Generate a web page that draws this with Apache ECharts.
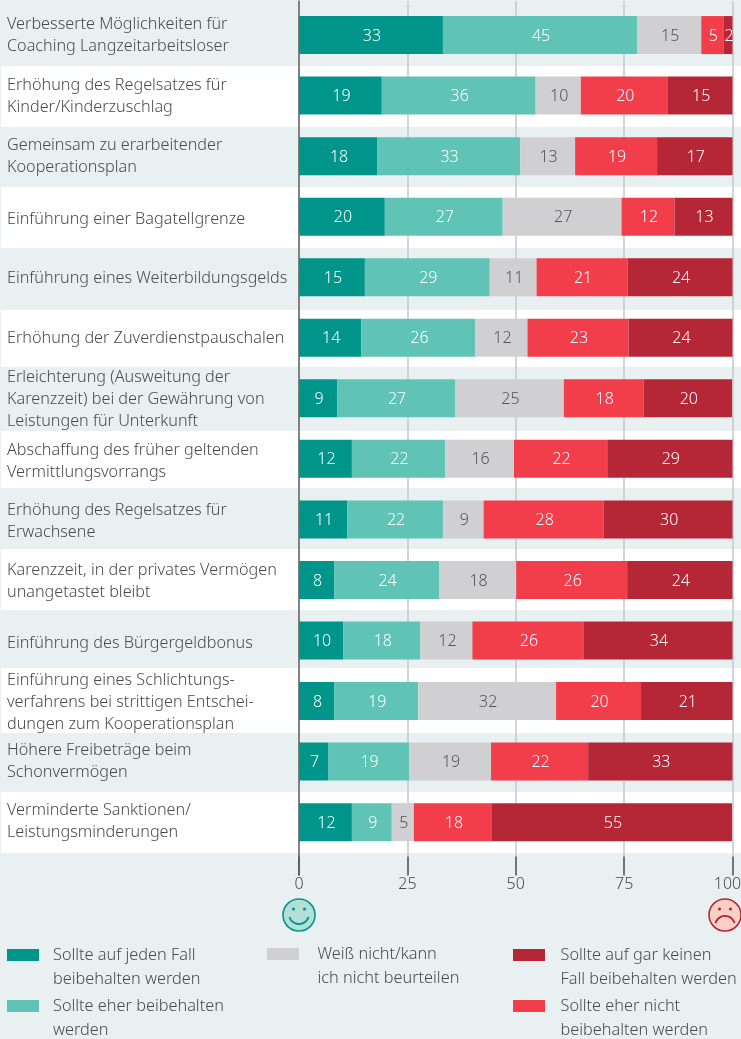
<!DOCTYPE html>
<html>
<head>
<meta charset="utf-8">
<script src="https://cdn.jsdelivr.net/npm/echarts@6/dist/echarts.min.js"></script>
<style>
  html, body { margin: 0; padding: 0; background: #e8f0f2; }
  #chart { width: 741px; height: 1039px; }
</style>
</head>
<body>
<div id="chart"></div>
<script>
var categories = [
  'Verbesserte Möglichkeiten für\nCoaching Langzeitarbeitsloser',
  'Erhöhung des Regelsatzes für\nKinder/Kinderzuschlag',
  'Gemeinsam zu erarbeitender\nKooperationsplan',
  'Einführung einer Bagatellgrenze',
  'Einführung eines Weiterbildungsgelds',
  'Erhöhung der Zuverdienstpauschalen',
  'Erleichterung (Ausweitung der\nKarenzzeit) bei der Gewährung von\nLeistungen für Unterkunft',
  'Abschaffung des früher geltenden\nVermittlungsvorrangs',
  'Erhöhung des Regelsatzes für\nErwachsene',
  'Karenzzeit, in der privates Vermögen\nunangetastet bleibt',
  'Einführung des Bürgergeldbonus',
  'Einführung eines Schlichtungs-\nverfahrens bei strittigen Entschei-\ndungen zum Kooperationsplan',
  'Höhere Freibeträge beim\nSchonvermögen',
  'Verminderte Sanktionen/\nLeistungsminderungen'
];

// bar lengths, labels are these rounded
var jedenFall = [33.2, 19.1, 18, 19.8, 15.2, 14.4, 8.8, 12.2, 11.1, 8.1, 10.2, 8.1, 6.7, 12.2];
var eherJa = [44.8, 35.5, 33, 27.2, 28.8, 26.3, 27.2, 21.5, 22.1, 24.2, 17.8, 19.4, 18.7, 9.2];
var weissNicht = [14.8, 10.4, 12.7, 27.4, 10.8, 12, 25.1, 15.9, 9.4, 17.8, 12, 31.8, 18.9, 5.1];
var eherNein = [5.1, 20.1, 18.9, 12.2, 21, 23.3, 18.4, 21.5, 27.7, 25.6, 25.6, 19.6, 22.4, 18];
var garNicht = [2.3, 15, 17.4, 13.4, 24.2, 24, 20.4, 29.1, 29.8, 24.4, 34.4, 21.4, 33.4, 55.4];

var legendNames = [
  'Sollte auf jeden Fall\nbeibehalten werden',
  'Sollte eher beibehalten\nwerden',
  'Weiß nicht/kann\nich nicht beurteilen',
  'Sollte eher nicht\nbeibehalten werden',
  'Sollte auf gar keinen\nFall beibehalten werden'
];

// top and bottom of the white row stripes
var whiteBands = [[66, 127], [187, 248], [310, 367], [431, 488], [549, 610], [668, 733], [792, 853]];
// the row texts do not sit exactly on the bar centres in the original
var labelShift = [0, 1, 0, 3, 1, 1, 1, 3, 2, 1, 3, 1, 0, -1];

var FONT = '"Noto Sans", sans-serif';
var TEXT = '#4a4a4a';
var BG = '#e8f0f2';
var ROW_LINE = 22;

var chart = echarts.init(document.getElementById('chart'));

function barSeries(i, values, color, labelColor) {
  return {
    name: legendNames[i],
    type: 'bar',
    stack: 'total',
    xAxisIndex: 0,
    yAxisIndex: 0,
    barWidth: 38,
    data: values,
    itemStyle: { color: color },
    label: {
      show: true,
      position: 'inside',
      offset: [1, 1],
      color: labelColor,
      fontFamily: FONT,
      fontWeight: 300,
      fontSize: 16,
      formatter: function (p) { return Math.round(p.value); }
    }
  };
}

function legendAt(i, left, top, textGap) {
  return {
    data: [legendNames[i]],
    left: left,
    top: top,
    padding: 0,
    itemWidth: 32,
    itemHeight: 12,
    itemGap: 0,
    icon: 'rect',
    selectedMode: false,
    // blank first line keeps the swatch level with the first text line
    formatter: function (name) { return '\n' + name; },
    textStyle: { color: TEXT, fontFamily: FONT, fontWeight: 300, fontSize: 16.3, lineHeight: 24, padding: [0, 0, 0, textGap] }
  };
}

var bands = whiteBands.map(function (b) {
  return { type: 'rect', z: -1, shape: { x: 1, y: b[0], width: 740, height: b[1] - b[0] }, style: { fill: '#fff' } };
});

var smiley = [
  { type: 'circle', shape: { cx: 299, cy: 915, r: 16 }, style: { fill: '#b2dfd8', stroke: '#00958a', lineWidth: 1.6 } },
  { type: 'circle', shape: { cx: 293.5, cy: 909, r: 1.6 }, style: { fill: '#00958a' } },
  { type: 'circle', shape: { cx: 304.5, cy: 909, r: 1.6 }, style: { fill: '#00958a' } },
  { type: 'arc', shape: { cx: 299, cy: 914, r: 10, startAngle: 0.3, endAngle: Math.PI - 0.3 }, style: { fill: null, stroke: '#00958a', lineWidth: 1.8 } },
  { type: 'circle', shape: { cx: 725, cy: 915, r: 16 }, style: { fill: '#f9cfc6', stroke: '#b52736', lineWidth: 1.6 } },
  { type: 'circle', shape: { cx: 719.5, cy: 909, r: 1.6 }, style: { fill: '#b52736' } },
  { type: 'circle', shape: { cx: 730.5, cy: 909, r: 1.6 }, style: { fill: '#b52736' } },
  { type: 'arc', shape: { cx: 725, cy: 926, r: 10, startAngle: Math.PI + 0.3, endAngle: 2 * Math.PI - 0.3 }, style: { fill: null, stroke: '#b52736', lineWidth: 1.8 } }
];

var option = {
  backgroundColor: BG,
  animation: false,
  graphic: { elements: bands.concat(smiley) },
  legend: [
    legendAt(0, 7, 919, 9),
    legendAt(1, 7, 970, 9),
    legendAt(2, 267, 918, 13.5),
    legendAt(3, 513, 970, 10.5),
    legendAt(4, 513, 919, 10.5)
  ],
  grid: [
    { left: 299, width: 433.5, top: 4.8, height: 847.6, outerBoundsMode: 'none' },
    // second grid only carries the long gridlines and the zero line
    { left: 299, width: 433.5, top: 1, height: 874, outerBoundsMode: 'none' }
  ],
  xAxis: [
    {
      type: 'value',
      gridIndex: 0,
      min: 0,
      max: 100,
      interval: 25,
      offset: 4,
      axisLine: { show: false },
      axisTick: { show: true, length: 19, lineStyle: { color: '#555', width: 1.5 } },
      splitLine: { show: false },
      axisLabel: {
        color: TEXT,
        fontFamily: FONT,
        fontWeight: 300,
        fontSize: 16,
        margin: 20,
        formatter: function (v) { return v === 100 ? '{last|100}' : v; },
        rich: { last: { color: TEXT, fontFamily: FONT, fontWeight: 300, fontSize: 16, padding: [0, 10, 0, 0] } }
      }
    },
    {
      type: 'value',
      gridIndex: 1,
      min: 0,
      max: 100,
      interval: 25,
      axisLine: { show: false },
      axisTick: { show: false },
      axisLabel: { show: false },
      splitLine: { show: true, lineStyle: { color: '#c4c8ca', width: 1.5 } }
    }
  ],
  yAxis: [
    {
      type: 'category',
      gridIndex: 0,
      inverse: true,
      data: categories.map(function (c, i) {
        // padding only moves text when it is top aligned, so pull it back up by half its height
        var half = c.split('\n').length * ROW_LINE / 2;
        return { value: c, textStyle: { align: 'left', verticalAlign: 'top', padding: [labelShift[i] - half, 0, 0, 0] } };
      }),
      axisLine: { show: false },
      axisTick: { show: false },
      axisLabel: {
        color: TEXT,
        fontFamily: FONT,
        fontWeight: 300,
        fontSize: 16.2,
        lineHeight: ROW_LINE,
        align: 'left',
        margin: 292,
        interval: 0
      }
    },
    {
      type: 'category',
      gridIndex: 1,
      data: [''],
      axisLine: { show: true, lineStyle: { color: '#666', width: 1.5 } },
      axisTick: { show: false },
      axisLabel: { show: false }
    }
  ],
  series: [
    barSeries(0, jedenFall, '#00958a', '#fff'),
    barSeries(1, eherJa, '#5fc4b6', '#fff'),
    barSeries(2, weissNicht, '#d0d0d2', '#555'),
    barSeries(3, eherNein, '#f23d4b', '#fff'),
    barSeries(4, garNicht, '#b52736', '#fff')
  ]
};

chart.setOption(option);
</script>
</body>
</html>
